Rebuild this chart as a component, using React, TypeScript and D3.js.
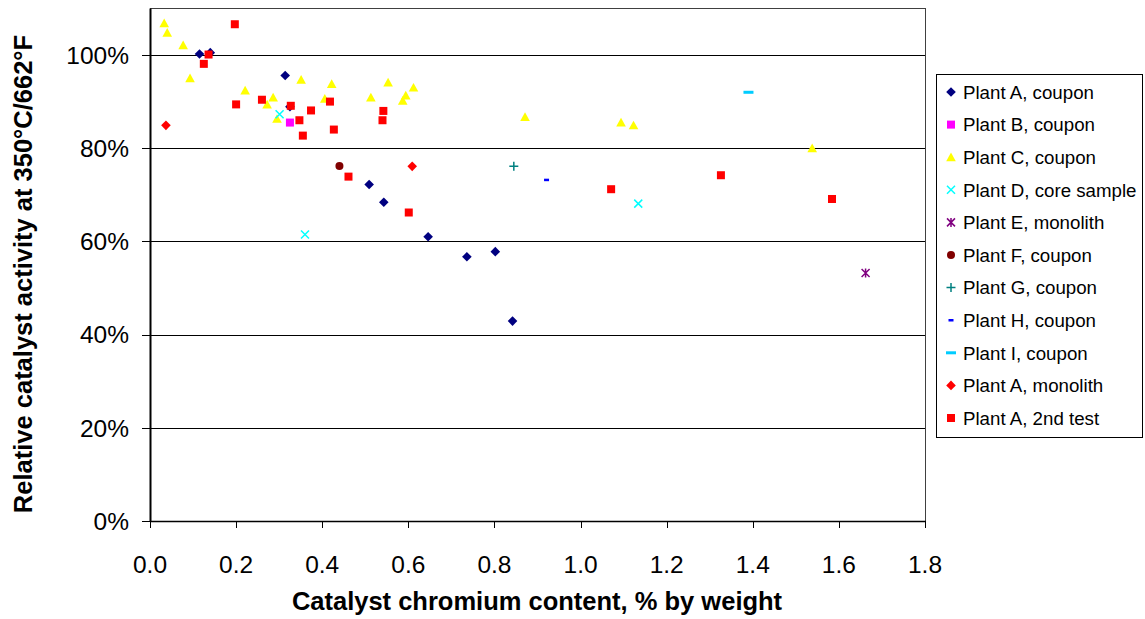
import React from "react";
import * as d3 from "d3";

type Pt = [number, number];

const plantACoupon: Pt[] = [
  [0.115, 100.2], [0.14, 100.5], [0.314, 95.6], [0.325, 88.9], [0.509, 72.2],
  [0.543, 68.4], [0.646, 61.0], [0.736, 56.7], [0.802, 57.8], [0.842, 42.9],
];
const plantBCoupon: Pt[] = [[0.325, 85.5]];
const plantCCoupon: Pt[] = [
  [0.033, 106.8], [0.04, 104.8], [0.077, 102.1], [0.093, 95.0], [0.221, 92.4],
  [0.286, 90.9], [0.272, 89.4], [0.295, 86.3], [0.351, 94.7], [0.422, 93.8],
  [0.406, 90.6], [0.513, 90.9], [0.553, 94.1], [0.587, 90.2], [0.594, 91.3],
  [0.612, 93.0], [0.871, 86.7], [1.094, 85.5], [1.123, 84.9], [1.538, 80.0],
];
const plantDCore: Pt[] = [[0.301, 87.3], [0.36, 61.5], [1.134, 68.1]];
const plantEMonolith: Pt[] = [[1.662, 53.2]];
const plantFCoupon: Pt[] = [[0.44, 76.2]];
const plantGCoupon: Pt[] = [[0.845, 76.1]];
const plantHCoupon: Pt[] = [[0.921, 73.2]];
const plantICoupon: Pt[] = [[1.39, 92.0]];
const plantAMonolith: Pt[] = [[0.037, 84.9], [0.609, 76.1]];
const plantA2ndTest: Pt[] = [
  [0.197, 106.6], [0.136, 100.1], [0.125, 98.1], [0.2, 89.4], [0.26, 90.4],
  [0.327, 89.1], [0.347, 86.0], [0.374, 88.1], [0.355, 82.7], [0.418, 90.0],
  [0.427, 84.0], [0.542, 88.0], [0.54, 86.0], [0.461, 73.9], [0.601, 66.2],
  [1.071, 71.2], [1.326, 74.2], [1.584, 69.1],
];

const xTicks = [0, 0.2, 0.4, 0.6, 0.8, 1.0, 1.2, 1.4, 1.6, 1.8];
const yTicks = [0, 20, 40, 60, 80, 100];

type Marker = "diamond" | "square" | "triangle" | "x" | "asterisk" | "circle" | "plus" | "dashSmall" | "dashLong";

const seriesList: { name: string; data: Pt[]; marker: Marker; color: string }[] = [
  { name: "Plant A, coupon", data: plantACoupon, marker: "diamond", color: "#000080" },
  { name: "Plant B, coupon", data: plantBCoupon, marker: "square", color: "#FF00FF" },
  { name: "Plant C, coupon", data: plantCCoupon, marker: "triangle", color: "#FFFF00" },
  { name: "Plant D, core sample", data: plantDCore, marker: "x", color: "#00FFFF" },
  { name: "Plant E, monolith", data: plantEMonolith, marker: "asterisk", color: "#800080" },
  { name: "Plant F, coupon", data: plantFCoupon, marker: "circle", color: "#800000" },
  { name: "Plant G, coupon", data: plantGCoupon, marker: "plus", color: "#008080" },
  { name: "Plant H, coupon", data: plantHCoupon, marker: "dashSmall", color: "#0000FF" },
  { name: "Plant I, coupon", data: plantICoupon, marker: "dashLong", color: "#00CCFF" },
  { name: "Plant A, monolith", data: plantAMonolith, marker: "diamond", color: "#FF0000" },
  { name: "Plant A, 2nd test", data: plantA2ndTest, marker: "square", color: "#FF0000" },
];

const W = 1145;
const H = 619;
const left = 150;
const right = 925;
const top = 8.4;
const bottom = 521;

function MarkerShape({ type, color, cx, cy }: { type: Marker; color: string; cx: number; cy: number }) {
  switch (type) {
    case "diamond":
      return <path d={`M${cx},${cy - 4.8}L${cx + 4.8},${cy}L${cx},${cy + 4.8}L${cx - 4.8},${cy}Z`} fill={color} />;
    case "square":
      return <rect x={cx - 4} y={cy - 4} width={8} height={8} fill={color} />;
    case "triangle":
      return <path d={`M${cx},${cy - 4.7}L${cx + 4.8},${cy + 4}L${cx - 4.8},${cy + 4}Z`} fill={color} />;
    case "circle":
      return <circle cx={cx} cy={cy} r={4} fill={color} />;
    case "x":
      return (
        <path d={`M${cx - 4},${cy - 4}L${cx + 4},${cy + 4}M${cx - 4},${cy + 4}L${cx + 4},${cy - 4}`} stroke={color} strokeWidth={1.5} fill="none" />
      );
    case "asterisk":
      return (
        <path
          d={`M${cx - 4},${cy - 4}L${cx + 4},${cy + 4}M${cx - 4},${cy + 4}L${cx + 4},${cy - 4}M${cx},${cy - 4.5}L${cx},${cy + 4.5}`}
          stroke={color}
          strokeWidth={1.5}
          fill="none"
        />
      );
    case "plus":
      return <path d={`M${cx - 4.5},${cy}L${cx + 4.5},${cy}M${cx},${cy - 4.5}L${cx},${cy + 4.5}`} stroke={color} strokeWidth={1.5} fill="none" />;
    case "dashSmall":
      return <rect x={cx - 2.5} y={cy - 1.2} width={5} height={2.5} fill={color} />;
    case "dashLong":
      return <rect x={cx - 5} y={cy - 1.5} width={10} height={3} fill={color} />;
  }
  return null;
}

export default function App() {
  const x = d3.scaleLinear().domain([0, 1.8]).range([left, right]);
  const y = d3.scaleLinear().domain([0, 110]).range([bottom, top]);
  const font = "'Liberation Sans', Arial, sans-serif";
  const legX = 936;
  const legY = 74;
  const legW = 206;
  const legH = 363;
  const legStart = 92;
  const legStep = 32.6;

  return (
    <svg
      width={W}
      height={H}
      style={{ position: "absolute", left: 0, top: 0, background: "#fff" }}
      fontFamily={font}
    >
      <rect x={0} y={0} width={W} height={H} fill="#fff" />
      {/* gridlines */}
      {yTicks.map((t) => (
        <line key={"g" + t} x1={left} x2={right} y1={Math.round(y(t)) + 0.5} y2={Math.round(y(t)) + 0.5} stroke="#000" strokeWidth={1} />
      ))}
      {/* plot border */}
      <rect x={left + 0.5} y={Math.round(top) + 0.5} width={right - left} height={Math.round(bottom) - Math.round(top)} fill="none" stroke="#404040" strokeWidth={1} />
      <line x1={left + 0.5} x2={left + 0.5} y1={top} y2={bottom + 0.5} stroke="#000" strokeWidth={2} />
      <line x1={left} x2={right + 1} y1={Math.round(bottom) + 0.5} y2={Math.round(bottom) + 0.5} stroke="#000" strokeWidth={1.5} />
      {/* y ticks */}
      {yTicks.map((t) => (
        <g key={"yt" + t}>
          <line x1={left - 8} x2={left} y1={Math.round(y(t)) + 0.5} y2={Math.round(y(t)) + 0.5} stroke="#000" />
          <text x={129} y={y(t)} dy="0.36em" textAnchor="end" fontSize={24.5} fill="#000">
            {d3.format(".0f")(t) + "%"}
          </text>
        </g>
      ))}
      {/* x ticks */}
      {xTicks.map((t) => (
        <g key={"xt" + t}>
          <line x1={Math.round(x(t)) + 0.5} x2={Math.round(x(t)) + 0.5} y1={bottom} y2={bottom + 7} stroke="#000" />
          <text x={x(t)} y={573} textAnchor="middle" fontSize={24.5} fill="#000">
            {d3.format(".1f")(t)}
          </text>
        </g>
      ))}
      {/* axis titles */}
      <text x={537} y={610} textAnchor="middle" fontSize={25.5} fontWeight="bold" fill="#000">
        Catalyst chromium content, % by weight
      </text>
      <text
        transform={`translate(32,274) rotate(-90)`}
        textAnchor="middle"
        fontSize={25.5}
        fontWeight="bold"
        fill="#000"
      >
        Relative catalyst activity at 350°C/662°F
      </text>
      {/* points */}
      {seriesList.map((s, si) => (
        <g key={"s" + si}>
          {s.data.map((d, i) => (
            <MarkerShape key={i} type={s.marker} color={s.color} cx={x(d[0])} cy={y(d[1])} />
          ))}
        </g>
      ))}
      {/* legend */}
      <rect x={legX + 0.5} y={legY + 0.5} width={legW} height={legH} fill="#fff" stroke="#000" strokeWidth={1} />
      {seriesList.map((s, i) => {
        const cy = legStart + i * legStep;
        return (
          <g key={"l" + i}>
            <MarkerShape type={s.marker} color={s.color} cx={951} cy={cy} />
            <text x={963} y={cy} dy="0.36em" fontSize={18.7} fill="#000">
              {s.name}
            </text>
          </g>
        );
      })}
    </svg>
  );
}
